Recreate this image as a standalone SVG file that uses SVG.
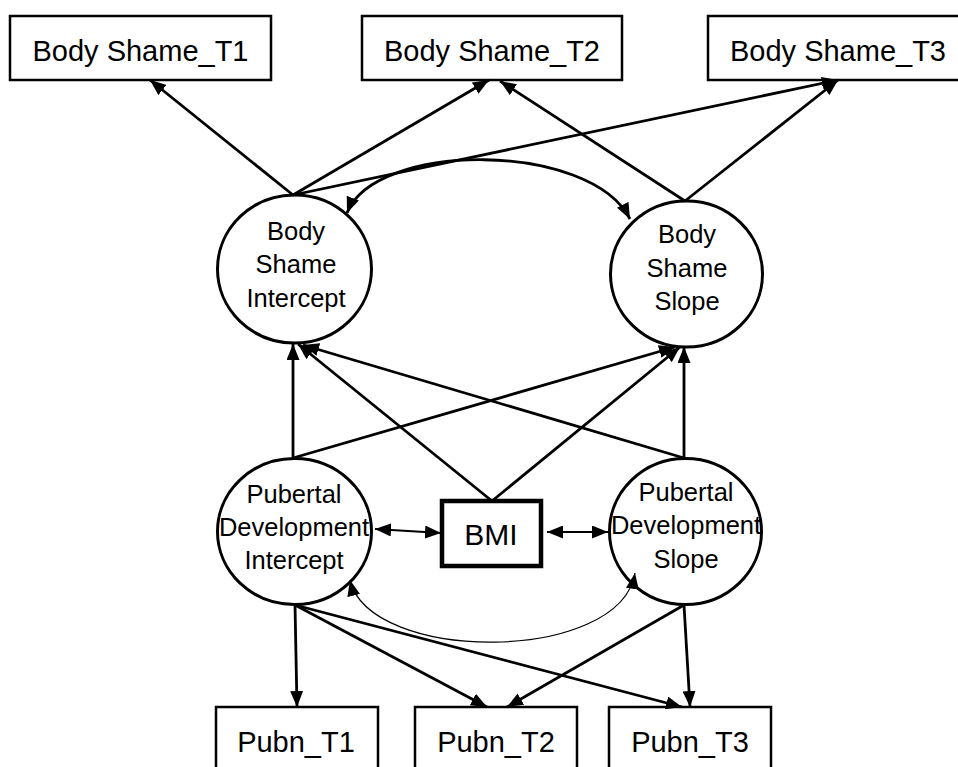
<svg xmlns="http://www.w3.org/2000/svg" width="958" height="767" viewBox="0 0 958 767">
<style>
  .box { fill: #fff; stroke: #000; stroke-width: 2.5; }
  .bmi { fill: #fff; stroke: #000; stroke-width: 4.5; }
  .lat { fill: #fff; stroke: #000; stroke-width: 3; }
  .lbl { font-family: "Liberation Sans", Arial, sans-serif; font-size: 29px; fill: #000; text-anchor: middle; }
  .cl { font-family: "Liberation Sans", Arial, sans-serif; font-size: 25.5px; fill: #000; text-anchor: middle; }
  .bm { font-family: "Liberation Sans", Arial, sans-serif; font-size: 30px; fill: #000; text-anchor: middle; }
  .c { fill: none; stroke: #000; stroke-width: 2.8; }
  .thin { fill: none; stroke: #000; stroke-width: 1.8; }
  .hair { fill: none; stroke: #000; stroke-width: 1.2; }
</style>
<defs>
  <marker id="ah" viewBox="0 0 16 13" refX="16" refY="6.5" markerWidth="16" markerHeight="13" markerUnits="userSpaceOnUse" orient="auto-start-reverse">
    <path d="M0,0 L16,6.5 L0,13 z" fill="#000"/>
  </marker>
</defs>
<rect width="958" height="767" fill="#fff"/>

<g id="bs_t1"><rect class="box" x="10" y="16" width="261" height="64"/><text class="lbl" x="140.5" y="61">Body Shame_T1</text></g>
<g id="bs_t2"><rect class="box" x="362" y="16" width="260" height="64"/><text class="lbl" x="492" y="61">Body Shame_T2</text></g>
<g id="bs_t3"><rect class="box" x="708" y="16" width="260" height="64"/><text class="lbl" x="838" y="61">Body Shame_T3</text></g>

<g id="bs_intercept"><ellipse class="lat" cx="294.5" cy="269" rx="77" ry="74"/>
  <text class="cl" x="296" y="240">Body</text><text class="cl" x="296" y="273">Shame</text><text class="cl" x="296" y="307">Intercept</text></g>
<g id="bs_slope"><ellipse class="lat" cx="686.5" cy="274" rx="76" ry="73"/>
  <text class="cl" x="687" y="243">Body</text><text class="cl" x="687" y="277">Shame</text><text class="cl" x="687" y="310">Slope</text></g>

<g id="pd_intercept"><ellipse class="lat" cx="294.5" cy="531.5" rx="77" ry="73"/>
  <text class="cl" x="294" y="503">Pubertal</text><text class="cl" x="294" y="536">Development</text><text class="cl" x="294" y="569">Intercept</text></g>
<g id="pd_slope"><ellipse class="lat" cx="685.5" cy="531.5" rx="76" ry="73"/>
  <text class="cl" x="686" y="501">Pubertal</text><text class="cl" x="686" y="534">Development</text><text class="cl" x="686" y="568">Slope</text></g>

<g id="bmi"><rect class="bmi" x="442" y="501" width="99" height="65"/><text class="bm" x="491" y="545">BMI</text></g>

<g id="pubn_t1"><rect class="box" x="216" y="707" width="162" height="80"/><text class="lbl" x="296" y="752">Pubn_T1</text></g>
<g id="pubn_t2"><rect class="box" x="415" y="707" width="162" height="80"/><text class="lbl" x="496" y="752">Pubn_T2</text></g>
<g id="pubn_t3"><rect class="box" x="609" y="707" width="162" height="80"/><text class="lbl" x="690" y="752">Pubn_T3</text></g>

<g id="connectors">
  <path class="c" d="M293,195 L150,80" marker-end="url(#ah)"/>
  <path class="c" d="M293,195 L489,80" marker-end="url(#ah)"/>
  <path class="c" d="M293,195 L838,80" marker-end="url(#ah)"/>
  <path class="c" d="M685,201 L500,81" marker-end="url(#ah)"/>
  <path class="c" d="M685,201 L838,80" marker-end="url(#ah)"/>
  <path class="c" d="M347,213 C375,141 590,141 630,219" marker-start="url(#ah)" marker-end="url(#ah)"/>
  <path class="c" d="M293,458 L293,344" marker-end="url(#ah)"/>
  <path class="c" d="M492,501 L298,344" marker-end="url(#ah)"/>
  <path class="c" d="M684,458 L303,345" marker-end="url(#ah)"/>
  <path class="c" d="M684,458 L684,347" marker-end="url(#ah)"/>
  <path class="c" d="M492,501 L680,347" marker-end="url(#ah)"/>
  <path class="c" d="M293,458 L675,347" marker-end="url(#ah)"/>
  <path class="thin" d="M375,529 L441,533" marker-start="url(#ah)" marker-end="url(#ah)"/>
  <path class="thin" d="M547,532 L608,532" marker-start="url(#ah)" marker-end="url(#ah)"/>
  <path class="hair" d="M350,580 C370,664 620,664 635,573" marker-start="url(#ah)" marker-end="url(#ah)"/>
  <path class="c" d="M295,605 L297,707" marker-end="url(#ah)"/>
  <path class="c" d="M295,605 L487,707" marker-end="url(#ah)"/>
  <path class="c" d="M295,605 L682,707" marker-end="url(#ah)"/>
  <path class="c" d="M684,605 L507,707" marker-end="url(#ah)"/>
  <path class="c" d="M684,605 L690,707" marker-end="url(#ah)"/>
</g>
</svg>
